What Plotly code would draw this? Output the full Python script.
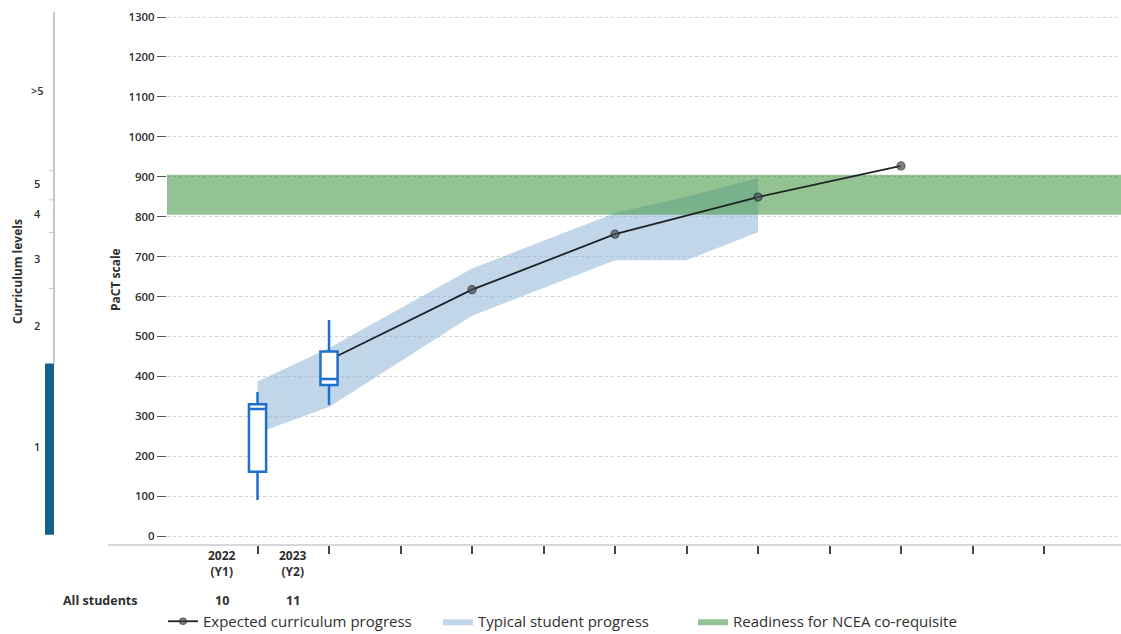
import plotly.graph_objects as go

# ---------------- data ----------------
year_ticks = list(range(1, 13))

box_x = [1, 2]
box_year_labels = ["2022<br>(Y1)", "2023<br>(Y2)"]
box_counts = ["10", "11"]
box_lower = [90, 328]
box_q1 = [161, 378]
box_median = [318, 393]
box_q3 = [330, 462]
box_upper = [361, 541]

expected_x = [2, 4, 6, 8, 10]
expected_y = [441, 617, 756, 849, 927]

typical_x = [1, 2, 4, 6, 7, 8]
typical_upper = [387, 471, 670, 809, 850, 897]
typical_lower = [258, 323, 552, 691, 691, 761]

ncea_band = [805, 905]

level_bounds = [0, 432, 620, 760, 842, 915, 1313]
level_labels = ["1", "2", "3", "4", "5", ">5"]
level_label_pos = [223, 528, 696, 809, 884, 1117]

y_ticks = list(range(0, 1301, 100))

# ---------------- layout constants ----------------
W, H = 1121, 634
ML, MR, MT, MB = 167, 0, 8, 89
PW = W - ML - MR
PH = H - MT - MB
X_RANGE = [-0.266, 13.077]
Y_RANGE = [-22.5, 1322.6]

FONT = "Open Sans"
TXT = "#2f2f2f"


def px_x(px):
    return (px - ML) / PW


def px_y(py):
    return (H - MB - py) / PH


fig = go.Figure()

# typical student progress band
fig.add_trace(go.Scatter(
    x=typical_x + typical_x[::-1],
    y=typical_upper + typical_lower[::-1],
    fill="toself", mode="lines", line=dict(width=0),
    fillcolor="rgba(150,185,218,0.58)",
    name="Typical student progress", hoverinfo="skip",
    legendrank=2, legendwidth=210,
))

# NCEA readiness band
fig.add_trace(go.Scatter(
    x=[X_RANGE[0], X_RANGE[1], X_RANGE[1], X_RANGE[0]],
    y=[ncea_band[0], ncea_band[0], ncea_band[1], ncea_band[1]],
    fill="toself", mode="lines", line=dict(width=0),
    fillcolor="rgba(65,150,65,0.57)",
    name="Readiness for NCEA co-requisite", hoverinfo="skip",
    legendrank=3,
))

# expected curriculum progress
fig.add_trace(go.Scatter(
    x=expected_x, y=expected_y, mode="lines+markers",
    line=dict(color="#1e2326", width=1.8),
    marker=dict(size=[0, 8, 8, 8, 8], color="#4a4f55",
                line=dict(color="#1e2326", width=1.2)),
    name="Expected curriculum progress",
    legendrank=1, legendwidth=230,
))

# boxes (on overlaying axes so they sit on top of the line)
fig.add_trace(go.Box(
    x=box_x, q1=box_q1, median=box_median, q3=box_q3,
    lowerfence=box_lower, upperfence=box_upper,
    width=0.24, whiskerwidth=0, boxpoints=False,
    line=dict(color="#1f6fcf", width=2.5), fillcolor="white",
    showlegend=False, xaxis="x2", yaxis="y2", hoverinfo="skip",
))

shapes = []
# x axis base line
shapes.append(dict(type="line", xref="paper", yref="paper",
                   x0=px_x(108), x1=1, y0=0, y1=0,
                   line=dict(color="#a9b4bf", width=1.2)))
# curriculum level thin line
shapes.append(dict(type="line", xref="paper", yref="y",
                   x0=px_x(54), x1=px_x(54), y0=level_bounds[1], y1=level_bounds[-1],
                   line=dict(color="#8d949a", width=1)))
# boundary ticks
for b in level_bounds[2:-1]:
    shapes.append(dict(type="line", xref="paper", yref="y",
                       x0=px_x(49), x1=px_x(54), y0=b, y1=b,
                       line=dict(color="#c4c8cc", width=1)))
# level-1 thick bar
shapes.append(dict(type="rect", xref="paper", yref="y",
                   x0=px_x(45), x1=px_x(54), y0=level_bounds[0] + 3, y1=level_bounds[1],
                   fillcolor="#11628b", line=dict(width=0)))

annotations = []
for lab, pos in zip(level_labels, level_label_pos):
    annotations.append(dict(text=lab, xref="paper", yref="y", x=px_x(37), y=pos,
                            showarrow=False, xanchor="center", yanchor="middle",
                            font=dict(family=FONT, size=11, color=TXT, weight=600)))
annotations.append(dict(text="Curriculum levels", xref="paper", yref="paper",
                        x=px_x(17), y=px_y(272), textangle=-90, showarrow=False,
                        xanchor="center", yanchor="middle",
                        font=dict(family=FONT, size=12, color=TXT, weight=700)))
annotations.append(dict(text="PaCT scale", xref="paper", yref="paper",
                        x=px_x(115), y=px_y(280), textangle=-90, showarrow=False,
                        xanchor="center", yanchor="middle",
                        font=dict(family=FONT, size=12, color=TXT, weight=700)))
for xv, lab, cnt in zip(box_x, box_year_labels, box_counts):
    annotations.append(dict(text=lab, xref="x", yref="paper", x=xv - 0.5, y=px_y(563),
                            showarrow=False, xanchor="center", yanchor="middle",
                            font=dict(family=FONT, size=12, color=TXT, weight=700)))
    annotations.append(dict(text=cnt, xref="x", yref="paper", x=xv - 0.5, y=px_y(601),
                            showarrow=False, xanchor="center", yanchor="middle",
                            font=dict(family=FONT, size=12.5, color=TXT, weight=700)))
annotations.append(dict(text="All students", xref="paper", yref="paper",
                        x=px_x(100), y=px_y(601), showarrow=False,
                        xanchor="center", yanchor="middle",
                        font=dict(family=FONT, size=12.5, color=TXT, weight=700)))

fig.update_layout(
    width=W, height=H,
    margin=dict(l=ML, r=MR, t=MT, b=MB, pad=0, autoexpand=False),
    paper_bgcolor="white", plot_bgcolor="white",
    font=dict(family=FONT, color=TXT),
    xaxis=dict(range=X_RANGE, showgrid=False, zeroline=False, showline=False,
               tickmode="array", tickvals=year_ticks, showticklabels=False,
               ticks="outside", ticklen=8, tickwidth=1.6, tickcolor="#444"),
    yaxis=dict(range=Y_RANGE, showgrid=True, gridcolor="#cdd1d4", griddash="dot",
               gridwidth=1, zeroline=False, showline=False,
               tickmode="array", tickvals=y_ticks,
               ticks="outside", ticklen=9, tickwidth=1.2, tickcolor="#555",
               tickfont=dict(family=FONT, size=11.5, color=TXT, weight=600)),
    xaxis2=dict(range=X_RANGE, overlaying="x", matches="x", visible=False),
    yaxis2=dict(range=Y_RANGE, overlaying="y", matches="y", visible=False),
    showlegend=True,
    legend=dict(orientation="h", xref="container", yref="container",
                x=163 / W, y=1 - 605 / H, xanchor="left", yanchor="top",
                font=dict(family=FONT, size=15, color=TXT),
                bgcolor="rgba(0,0,0,0)"),
    shapes=shapes, annotations=annotations,
)

fig.write_html("out.html", config={"displayModeBar": False},
               post_script="document.body.style.margin='0';document.body.style.padding='0';")
